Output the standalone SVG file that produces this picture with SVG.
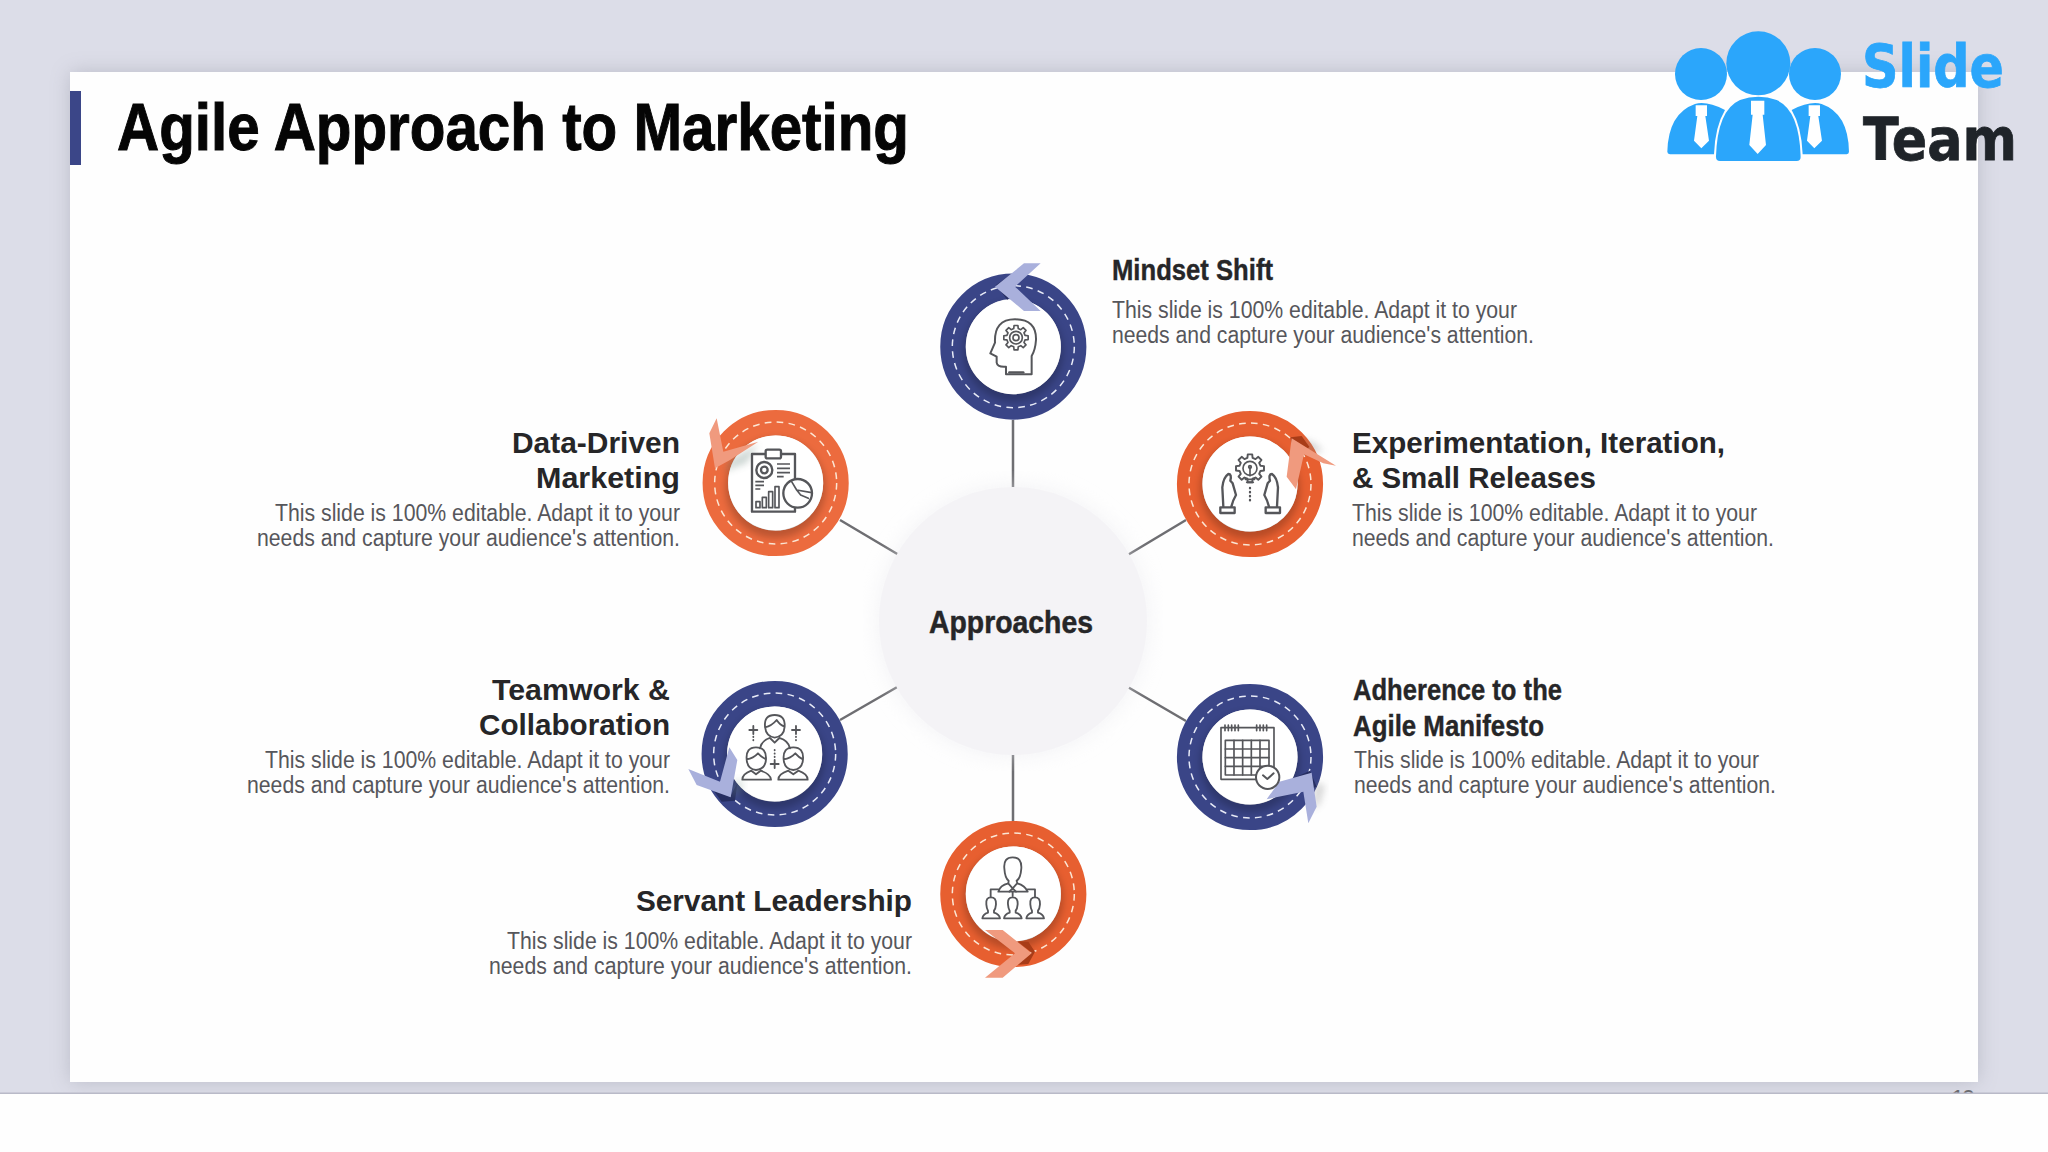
<svg xmlns="http://www.w3.org/2000/svg" width="2048" height="1152" viewBox="0 0 2048 1152">
<style>
text{font-family:"Liberation Sans",Arial,sans-serif}
.h{font-weight:700;font-size:30px;fill:#262628}
.c{font-weight:700;font-size:32px;fill:#262628}
.b{font-size:23px;fill:#56565b}
.e{text-anchor:end}
.ring{fill:none;stroke-width:76.5}
.navy{stroke:#3a4587}.or1{stroke:#e75f30}.or2{stroke:#ec6b3e}
.dash{fill:none;stroke-width:4.5;stroke-dasharray:20 16}
.dn{stroke:#e8ebf7}.dr{stroke:#fbe6d4}
.hole{fill:#fff}
.sg{fill:#000;opacity:.2;filter:url(#b6)}
.cn{fill:#a9b0dc}.co{fill:#f09a7e}
.dkn{fill:#262e61}.dko{fill:#a83c18}
.i{fill:none;stroke:#55565a;stroke-width:7;stroke-linejoin:round;stroke-linecap:round}
.iw{fill:#fff;stroke:#55565a;stroke-width:7;stroke-linejoin:round}
.ln{stroke:#6e6e72;stroke-width:2.5;fill:none}
.lb{fill:#2ba6fb}
.lt{font-family:"DejaVu Sans",sans-serif;font-size:58px;font-weight:700;stroke-width:.8}
</style>
<defs>
<filter id="b6" x="-30%" y="-30%" width="160%" height="160%"><feGaussianBlur stdDeviation="11"/></filter>
<filter id="b14" x="-5%" y="-5%" width="110%" height="110%"><feGaussianBlur stdDeviation="10"/></filter>
<polygon id="gear" points="27.2,-6.8 36.5,-5.8 36.5,5.8 27.2,6.8 24,14.4 29.9,21.7 21.7,29.9 14.4,24 6.8,27.2 5.8,36.5 -5.8,36.5 -6.8,27.2 -14.4,24 -21.7,29.9 -29.9,21.7 -24,14.4 -27.2,6.8 -36.5,5.8 -36.5,-5.8 -27.2,-6.8 -24,-14.4 -29.9,-21.7 -21.7,-29.9 -14.4,-24 -6.8,-27.2 -5.8,-36.5 5.8,-36.5 6.8,-27.2 14.4,-24 21.7,-29.9 29.9,-21.7 24,-14.4"/>
<path id="hand" d="M190 320 L187 262 Q190 232 205 222 Q216 222 211 242 L218 250 L228 285 Q219 300 214 320"/>
</defs>

<rect width="2048" height="1152" fill="#dcdde8"/>
<rect x="70" y="72" width="1908" height="1010" fill="#8a8b99" opacity=".4" filter="url(#b14)"/>
<rect x="70" y="72" width="1908" height="1010" fill="#fefefe"/>
<rect x="70" y="91" width="11" height="74" fill="#3b4688"/>
<text x="117" y="150" font-size="67" font-weight="700" fill="#050505" stroke="#050505" stroke-width="1" textLength="792" lengthAdjust="spacingAndGlyphs">Agile Approach to Marketing</text>

<text x="1951" y="1107" font-size="24" fill="#6b6b70" textLength="24">10</text>
<rect x="0" y="1093" width="2048" height="59" fill="#fefefe"/>
<rect x="0" y="1092.500" width="2048" height="1.500" fill="#b9bac8"/>

<g id="connectors">
<path class="ln" d="M1013 420V488M1013 754V821M840 520L899 555M1186 520L1126 556M840 720L899 686M1126 686L1186 721"/>
</g>

<g id="node-center">
<circle cx="1013" cy="621" r="136" fill="#e9e9ee" opacity=".5" filter="url(#b14)"/>
<circle cx="1013" cy="621" r="134" fill="#f4f3f6"/>
<text class="c" x="929" y="633" stroke="#262628" stroke-width=".5" textLength="164" lengthAdjust="spacingAndGlyphs">Approaches</text>
</g>

<g id="node-mindset">
<g transform="translate(920 240) scale(.3333)">
<circle class="ring navy" cx="280" cy="320" r="181"/>
<circle class="dash dn" cx="280" cy="320" r="183"/>
<circle class="sg" cx="280" cy="335" r="150"/>
<circle class="hole" cx="280" cy="320" r="142.500"/>
<polygon class="dkn" points="228,135 272,104 305,112 280,140 262,180"/>
<polygon class="cn" points="312,70 362,70 285,140 362,213 312,213 225,140"/>
<path class="i" style="stroke-width:6" d="M258 403V380Q232 382 230 368V350L211 340L225 308Q222 238 285 238Q350 238 348 300Q346 330 335 348V403Z"/>
<path class="i" d="M268 397H310"/>
<g transform="translate(288 293)"><use href="#gear" class="i" style="stroke-width:5"/><circle class="i" style="stroke-width:5" r="19"/><circle class="i" style="stroke-width:5" r="9"/></g>
</g>
<text class="h" x="1112" y="280" stroke="#262628" stroke-width=".4" textLength="161" lengthAdjust="spacingAndGlyphs">Mindset Shift</text>
<text class="b" x="1112" y="318" textLength="405" lengthAdjust="spacingAndGlyphs">This slide is 100% editable. Adapt it to your</text>
<text class="b" x="1112" y="343" textLength="422" lengthAdjust="spacingAndGlyphs">needs and capture your audience's attention.</text>
</g>

<g id="node-data-driven">
<g transform="translate(680 400) scale(.3333)">
<circle class="ring or2" cx="287" cy="249" r="181"/>
<circle class="dash dr" cx="287" cy="249" r="183"/>
<circle class="sg" cx="287" cy="264" r="150"/>
<circle class="hole" cx="287" cy="249" r="142.500"/>
<polygon fill="#5d7a70" opacity=".3" filter="url(#b6)" points="150,180 235,130 200,190 130,215"/>
<polygon class="co" points="110,55 130,155 235,125 150,180 105,205 88,100"/>
<rect class="iw" x="216" y="162" width="129" height="173"/>
<rect class="iw" x="257" y="149" width="46" height="26" rx="5"/>
<circle class="i" cx="253" cy="210" r="24"/><circle class="i" cx="253" cy="210" r="10"/>
<path class="i" style="stroke-width:5;stroke-linecap:butt" d="M291 192H330M291 205H330M291 218H330M291 230H311M226 245H252M226 256H252M226 267H241"/>
<rect class="i" style="stroke-width:5" x="228" y="305" width="12" height="18"/><rect class="i" style="stroke-width:5" x="247" y="292" width="12" height="31"/><rect class="i" style="stroke-width:5" x="266" y="275" width="12" height="48"/><rect class="i" style="stroke-width:5" x="285" y="260" width="12" height="63"/>
<circle class="iw" cx="353" cy="280" r="43"/>
<path class="i" style="stroke-width:5" d="M335 245L350 270L395 278M350 270L362 285L385 295"/>
</g>
<text class="h e" x="680" y="453" textLength="168" lengthAdjust="spacingAndGlyphs">Data-Driven</text>
<text class="h e" x="680" y="488" textLength="144" lengthAdjust="spacingAndGlyphs">Marketing</text>
<text class="b e" x="680" y="521" textLength="405" lengthAdjust="spacingAndGlyphs">This slide is 100% editable. Adapt it to your</text>
<text class="b e" x="680" y="546" textLength="423" lengthAdjust="spacingAndGlyphs">needs and capture your audience's attention.</text>
</g>

<g id="node-experimentation">
<g transform="translate(1160 400) scale(.3333)">
<circle class="ring or1" cx="270" cy="252" r="181"/>
<circle class="dash dr" cx="270" cy="252" r="183"/>
<circle class="sg" cx="270" cy="267" r="150"/>
<circle class="hole" cx="270" cy="252" r="142.500"/>
<polygon fill="#888" opacity=".35" filter="url(#b6)" points="420,115 465,130 490,155 430,160"/>
<polygon class="dko" points="392,112 425,108 448,140 430,160 395,150"/>
<polygon class="co" points="395,115 528,197 490,190 432,163 408,268 380,230"/>
<g transform="translate(270 205)"><use href="#gear" class="i" style="stroke-width:5" transform="scale(1.15)"/><circle class="i" style="stroke-width:5" r="21"/><path class="i" style="stroke-width:5" d="M0 -4V22M-14 33H14M-10 42H10"/><circle class="i" style="stroke-width:5" cy="-4" r="4"/></g>
<path class="i" style="stroke-dasharray:1 11" d="M270 264V302"/>
<use href="#hand" class="i"/><rect class="i" x="181" y="322" width="43" height="17"/>
<g transform="translate(541 0) scale(-1 1)"><use href="#hand" class="i"/><rect class="i" x="181" y="322" width="43" height="17"/></g>
</g>
<text class="h" x="1352" y="453" textLength="373" lengthAdjust="spacingAndGlyphs">Experimentation, Iteration,</text>
<text class="h" x="1352" y="488" textLength="244" lengthAdjust="spacingAndGlyphs">&amp; Small Releases</text>
<text class="b" x="1352" y="521" textLength="405" lengthAdjust="spacingAndGlyphs">This slide is 100% editable. Adapt it to your</text>
<text class="b" x="1352" y="546" textLength="422" lengthAdjust="spacingAndGlyphs">needs and capture your audience's attention.</text>
</g>

<g id="node-teamwork">
<g transform="translate(680 670) scale(.3333)">
<circle class="ring navy" cx="284" cy="252" r="181"/>
<circle class="dash dn" cx="284" cy="252" r="183"/>
<circle class="sg" cx="284" cy="267" r="150"/>
<circle class="hole" cx="284" cy="252" r="142.500"/>
<polygon class="dkn" points="100,360 150,380 172,340 165,392 125,395"/>
<polygon fill="#7d9a90" opacity=".25" filter="url(#b6)" points="160,330 190,330 185,370 150,380"/>
<polygon class="cn" points="25,297 120,335 148,232 172,270 152,382 50,345"/>
<g class="i" style="stroke-width:5.500">
<path d="M255 170Q252 135 284 135Q316 135 314 170Q312 200 284 203Q258 200 255 170ZM255 172Q275 168 290 150Q300 165 314 170"/>
<path d="M240 235Q245 212 270 204L284 218L298 204Q325 212 330 235"/>
<path d="M200 268Q197 232 228 232Q260 232 258 268Q256 298 228 300Q202 298 200 268ZM200 268Q220 265 234 250Q245 262 258 268"/>
<path d="M187 329Q187 312 214 302L228 313L242 302Q272 312 273 329Z"/>
<path d="M311 268Q308 232 340 232Q372 232 369 268Q367 298 340 300Q313 298 311 268ZM311 268Q332 265 346 250Q356 262 369 268"/>
<path d="M295 329Q295 312 325 302L340 313L355 302Q383 312 383 329Z"/>
<path d="M208 180H232M220 168V192M336 180H360M348 168V192M272 282H296M284 270V294"/>
<path style="stroke-dasharray:1 9" d="M220 200V218M348 200V218M284 240V266"/>
</g>
</g>
<text class="h e" x="670" y="700" textLength="178" lengthAdjust="spacingAndGlyphs">Teamwork &amp;</text>
<text class="h e" x="670" y="735" textLength="191" lengthAdjust="spacingAndGlyphs">Collaboration</text>
<text class="b e" x="670" y="768" textLength="405" lengthAdjust="spacingAndGlyphs">This slide is 100% editable. Adapt it to your</text>
<text class="b e" x="670" y="793" textLength="423" lengthAdjust="spacingAndGlyphs">needs and capture your audience's attention.</text>
</g>

<g id="node-adherence">
<g transform="translate(1160 670) scale(.3333)">
<circle class="ring navy" cx="270" cy="261" r="181"/>
<circle class="dash dn" cx="270" cy="261" r="183"/>
<circle class="sg" cx="270" cy="276" r="150"/>
<circle class="hole" cx="270" cy="261" r="142.500"/>
<polygon fill="#777" opacity=".3" filter="url(#b6)" points="465,340 495,345 480,400 460,420"/>
<polygon class="dkn" points="400,325 450,302 470,350 430,365"/>
<polygon class="cn" points="320,388 358,335 455,308 470,410 445,460 430,365"/>
<rect class="i" style="stroke-width:5" x="183" y="173" width="159" height="155"/>
<path class="i" style="stroke-width:5" d="M195 165V182M205 165V182M215 165V182M225 165V182M235 165V182M290 165V182M300 165V182M310 165V182M320 165V182"/>
<rect class="i" style="stroke-width:5" x="196" y="211" width="131" height="104"/>
<path class="i" style="stroke-width:5" d="M222 211V315M248 211V315M274 211V315M300 211V315M196 237H327M196 263H327M196 289H327"/>
<circle class="iw" style="stroke-width:6" cx="323" cy="322" r="35"/>
<path class="i" style="stroke-width:6" d="M309 316L322 327L341 310"/>
</g>
<text class="h" x="1353" y="700" stroke="#262628" stroke-width=".4" textLength="209" lengthAdjust="spacingAndGlyphs">Adherence to the</text>
<text class="h" x="1353" y="736" stroke="#262628" stroke-width=".4" textLength="191" lengthAdjust="spacingAndGlyphs">Agile Manifesto</text>
<text class="b" x="1354" y="768" textLength="405" lengthAdjust="spacingAndGlyphs">This slide is 100% editable. Adapt it to your</text>
<text class="b" x="1354" y="793" textLength="422" lengthAdjust="spacingAndGlyphs">needs and capture your audience's attention.</text>
</g>

<g id="node-servant">
<g transform="translate(920 810) scale(.3333)">
<circle class="ring or1" cx="280" cy="252" r="181"/>
<circle class="dash dr" cx="280" cy="252" r="183"/>
<circle class="sg" cx="280" cy="267" r="150"/>
<circle class="hole" cx="280" cy="252" r="142.500"/>
<polygon class="dko" points="295,395 335,428 285,465 325,462 345,425 325,395"/>
<polygon class="co" points="195,360 248,360 335,430 248,503 195,503 285,430"/>
<g class="i" style="stroke-width:5.500">
<path d="M253 175Q250 142 278 142Q306 142 304 175Q302 205 290 212L292 220Q315 226 323 245H235Q240 226 265 220L266 212Q255 205 253 175Z"/>
<path d="M266 222L278 235L290 222M278 235L268 245M278 235L288 245"/>
<path d="M235 238H212V260M323 238H345V260M278 245V258"/>
<path d="M199 283Q197 262 213 262Q229 262 228 283Q227 296 222 302V308Q238 313 240 325H187Q189 313 204 308V302Q200 296 199 283Z"/>
<path d="M264 283Q262 262 278 262Q294 262 293 283Q292 296 287 302V308Q303 313 305 325H252Q254 313 269 308V302Q265 296 264 283Z"/>
<path d="M331 283Q329 262 345 262Q361 262 360 283Q359 296 354 302V308Q370 313 372 325H319Q321 313 336 308V302Q332 296 331 283Z"/>
</g>
</g>
<text class="h e" x="912" y="911" textLength="276" lengthAdjust="spacingAndGlyphs">Servant Leadership</text>
<text class="b e" x="912" y="949" textLength="405" lengthAdjust="spacingAndGlyphs">This slide is 100% editable. Adapt it to your</text>
<text class="b e" x="912" y="974" textLength="423" lengthAdjust="spacingAndGlyphs">needs and capture your audience's attention.</text>
</g>

<g id="logo">
<g transform="translate(1640 0) scale(.3333)">
<circle class="lb" cx="355" cy="190" r="96"/>
<circle class="lb" cx="183" cy="222" r="78"/>
<circle class="lb" cx="525" cy="222" r="78"/>
<path class="lb" d="M82 455Q85 340 165 312Q200 302 255 330Q225 380 222 463H90Q82 462 82 455Z"/>
<path class="lb" d="M627 455Q625 340 545 312Q510 302 455 330Q485 380 488 463H620Q627 462 627 455Z"/>
<path class="lb" d="M228 470Q232 330 300 300Q355 280 410 300Q478 330 482 470Q482 483 470 483H240Q228 483 228 470Z"/>
<path fill="#fff" d="M333 302H373V344H368L378 435L353 462L328 435L338 344H333ZM167 316H201V348H196L207 422L184 445L162 422L172 348H167ZM506 316H540V348H535L546 422L523 445L501 422L511 348H506Z"/>
</g>
<text class="lt" x="1862" y="87" fill="#2ba6fb" stroke="#2ba6fb" textLength="142" lengthAdjust="spacingAndGlyphs">Slide</text>
<text class="lt" x="1863" y="160" fill="#1f2429" stroke="#1f2429" textLength="154" lengthAdjust="spacingAndGlyphs">Team</text>
</g>
</svg>
